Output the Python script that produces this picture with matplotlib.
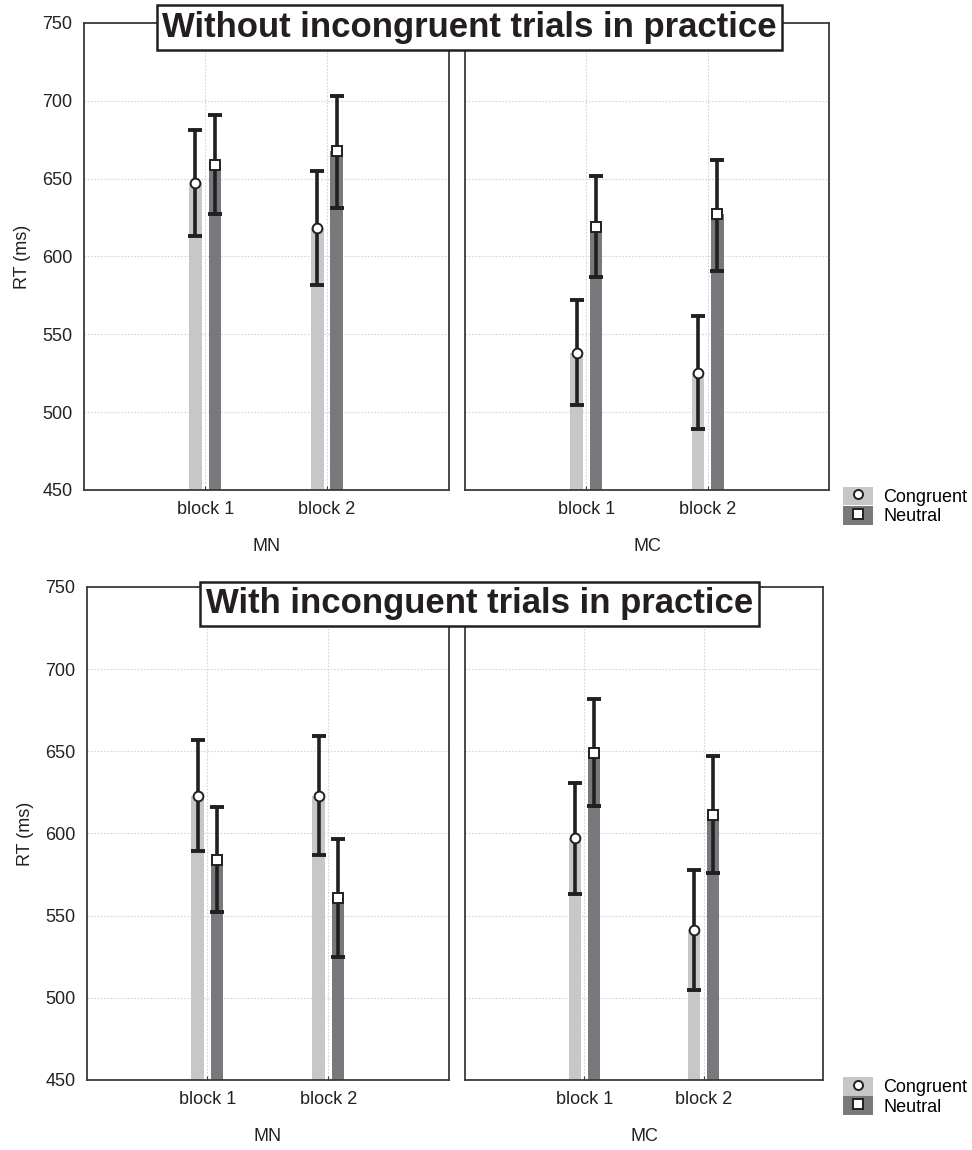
import numpy as np
import matplotlib.pyplot as plt
from matplotlib.patches import Patch
from matplotlib.lines import Line2D

plt.rcParams['font.family'] = ['Liberation Sans', 'DejaVu Sans']

# Data (RT in ms, mean with CI limits)
blocks = ['block 1', 'block 2']
groups = ['MN', 'MC']
conditions = ['Congruent', 'Neutral']
titles = ['Without incongruent trials in practice', 'With inconguent trials in practice']

# without incongruent trials in practice
top_mn_cong = [647, 618]
top_mn_cong_lo = [613, 582]
top_mn_cong_hi = [681, 655]
top_mn_neut = [659, 668]
top_mn_neut_lo = [627, 631]
top_mn_neut_hi = [691, 703]

top_mc_cong = [538, 525]
top_mc_cong_lo = [504.5, 489]
top_mc_cong_hi = [572, 561.5]
top_mc_neut = [619, 627]
top_mc_neut_lo = [587, 591]
top_mc_neut_hi = [651.5, 662]

# with incongruent trials in practice
bot_mn_cong = [623, 623]
bot_mn_cong_lo = [589.5, 587]
bot_mn_cong_hi = [657, 659.5]
bot_mn_neut = [584, 561]
bot_mn_neut_lo = [552, 525]
bot_mn_neut_hi = [616, 596.5]

bot_mc_cong = [597, 541]
bot_mc_cong_lo = [563, 505]
bot_mc_cong_hi = [631, 578]
bot_mc_neut = [649, 611]
bot_mc_neut_lo = [617, 576]
bot_mc_neut_hi = [682, 647]

panels = [
    [(top_mn_cong, top_mn_cong_lo, top_mn_cong_hi, top_mn_neut, top_mn_neut_lo, top_mn_neut_hi),
     (top_mc_cong, top_mc_cong_lo, top_mc_cong_hi, top_mc_neut, top_mc_neut_lo, top_mc_neut_hi)],
    [(bot_mn_cong, bot_mn_cong_lo, bot_mn_cong_hi, bot_mn_neut, bot_mn_neut_lo, bot_mn_neut_hi),
     (bot_mc_cong, bot_mc_cong_lo, bot_mc_cong_hi, bot_mc_neut, bot_mc_neut_lo, bot_mc_neut_hi)],
]

c_cong = '#c6c7c9'
c_neut = '#78797c'
c_err = '#231f20'
c_spine = '#3a3a3a'
W, H = 972, 1150

fig = plt.figure(figsize=(9.72, 11.5), dpi=100)

# axes boxes in pixels: (left, top, right, bottom)
boxes = [
    [(83.5, 23, 448.7, 490), (465, 23, 829, 490)],
    [(86.7, 587, 449, 1080), (465, 587, 823, 1080)],
]

x = np.arange(1, len(blocks) + 1)
off = 0.08
bw = 0.105

for r in range(2):
    for c in range(2):
        l, t, rr, b = boxes[r][c]
        ax = fig.add_axes([l / W, 1 - b / H, (rr - l) / W, (b - t) / H])
        cong, clo, chi, neut, nlo, nhi = [np.array(v) for v in panels[r][c]]
        ax.bar(x - off, cong - 450, bottom=450, width=bw, color=c_cong, zorder=2)
        ax.bar(x + off, neut - 450, bottom=450, width=bw, color=c_neut, zorder=2)
        ax.errorbar(x - off, cong, yerr=[cong - clo, chi - cong], fmt='none',
                    ecolor=c_err, elinewidth=2.6, capsize=4.7, capthick=2.8, zorder=3)
        ax.errorbar(x + off, neut, yerr=[neut - nlo, nhi - neut], fmt='none',
                    ecolor=c_err, elinewidth=2.6, capsize=4.7, capthick=2.8, zorder=3)
        ax.plot(x - off, cong, 'o', ms=7, mfc='white', mec=c_err, mew=1.4, zorder=4)
        ax.plot(x + off, neut, 's', ms=7, mfc='white', mec=c_err, mew=1.4, zorder=4)

        ax.set_xlim(0, 3)
        ax.set_ylim(450, 750)
        ax.set_xticks(x)
        ax.set_xticklabels(blocks)
        ax.set_yticks(np.arange(450, 751, 50))
        ax.grid(True, color='#d4d4d4', linestyle=(0, (1.5, 1.5)), linewidth=0.8, zorder=0)
        ax.set_axisbelow(True)
        ax.tick_params(axis='x', direction='in', length=3, labelsize=13, colors=c_spine,
                       labelcolor='#222222', pad=8)
        ax.tick_params(axis='y', length=0, labelsize=13, labelcolor='#222222', pad=8)
        for s in ax.spines.values():
            s.set_color(c_spine)
            s.set_linewidth(1.3)
        ax.set_xlabel(groups[c], fontsize=13, color='#222222', labelpad=14)
        if c == 0:
            ax.set_ylabel('RT (ms)', fontsize=13, color='#222222', labelpad=8)
        else:
            ax.set_yticklabels([])

    # legend beside each row
    handles = [
        (Patch(facecolor=c_cong, edgecolor='none'),
         Line2D([], [], marker='o', ls='none', ms=6.5, mfc='white', mec=c_err, mew=1.4)),
        (Patch(facecolor=c_neut, edgecolor='none'),
         Line2D([], [], marker='s', ls='none', ms=6.5, mfc='white', mec=c_err, mew=1.4)),
    ]
    ly = 486.7 if r == 0 else 1077
    fig.legend(handles, conditions, loc='upper left', bbox_to_anchor=(842.7 / W, 1 - ly / H),
               frameon=False, fontsize=13, handlelength=1.7, handleheight=1.2,
               labelspacing=0.0, handletextpad=0.55, borderpad=0, borderaxespad=0)

# boxed titles over the top spines
fig.text(469.5 / W, 1 - 27.5 / H, titles[0], ha='center', va='center', fontsize=25,
         fontweight='bold', color='#231f20', zorder=10,
         bbox=dict(boxstyle='square,pad=0.16', facecolor='white', edgecolor='#231f20', linewidth=1.8))
fig.text(479.5 / W, 1 - 604 / H, titles[1], ha='center', va='center', fontsize=25,
         fontweight='bold', color='#231f20', zorder=10,
         bbox=dict(boxstyle='square,pad=0.16', facecolor='white', edgecolor='#231f20', linewidth=1.8))

fig.savefig('out.png', dpi=100, facecolor='white')
